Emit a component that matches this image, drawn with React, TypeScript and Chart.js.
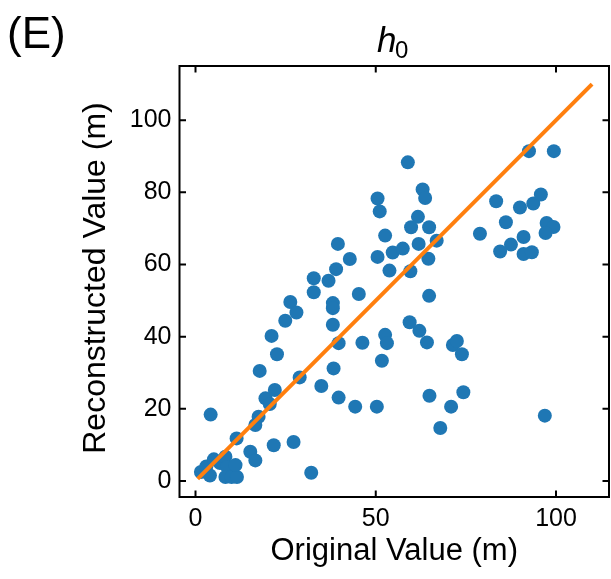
import React, { useEffect, useRef } from "react";
import { Chart, registerables } from "chart.js";

Chart.register(...registerables);

const originalValues = [
  1.5, 3.0, 4.0, 5.1, 6.8, 8.3, 8.8, 8.3, 10.0, 11.5, 11.1, 11.4, 4.2,
  15.2, 16.6, 16.6, 17.5, 17.8, 19.4, 20.6, 22.0, 21.7, 22.6, 21.1, 24.9, 26.3,
  28.0, 28.9, 27.2, 32.1, 32.8, 32.8, 36.9, 39.0, 38.1, 38.1, 38.1, 39.7, 38.3,
  34.9, 39.7, 44.3, 50.3, 45.3, 46.3, 42.8, 39.5, 50.5, 53.8, 51.7, 52.6, 53.1,
  58.9, 63.0, 63.7, 50.5, 51.1, 61.7, 59.8, 64.8, 66.9, 52.6, 54.7, 57.5, 61.9,
  64.6, 59.6, 64.8, 59.4, 62.1, 64.2, 71.4, 72.5, 73.9, 64.9, 70.9, 74.3, 67.9,
  96.9, 92.5, 99.4, 83.4, 90.0, 93.7, 95.8, 86.1, 97.4, 99.3, 97.1, 78.9, 91.0,
  87.5, 84.5, 91.0, 93.3,
];
const reconstructedValues = [
  2.5, 4.0, 1.5, 6.0, 5.0, 6.7, 3.9, 1.1, 1.1, 1.1, 4.4, 11.8, 18.4,
  8.1, 5.7, 15.5, 17.8, 30.5, 22.9, 21.3, 25.2, 9.9, 35.1, 40.2, 44.4, 49.6,
  46.7, 28.7, 10.8, 2.3, 56.2, 52.3, 55.5, 58.7, 49.3, 47.9, 43.3, 38.2, 31.2,
  26.3, 23.1, 20.6, 20.6, 51.8, 38.3, 61.5, 65.7, 62.1, 58.3, 33.3, 40.5, 38.2,
  88.3, 80.8, 78.4, 78.3, 74.7, 73.2, 70.3, 70.3, 66.6, 68.0, 63.3, 64.4, 65.7,
  61.6, 58.1, 51.3, 44.0, 41.6, 38.4, 37.7, 38.8, 35.1, 23.6, 20.6, 24.6, 14.7,
  18.1, 91.4, 91.4, 77.5, 75.8, 76.9, 79.4, 71.7, 71.5, 70.4, 68.7, 68.5, 67.6,
  65.5, 63.6, 62.9, 63.4,
];
const fitLineX = [0.6, 110];
const fitLineY = [0.6, 110];
const xTicks = [0, 50, 100];
const yTicks = [0, 20, 40, 60, 80, 100];
const xTitle = "Original Value (m)";
const yTitle = "Reconstructed Value (m)";
const panelLabel = "(E)";
const titleMain = "h";
const titleSub = "0";

const FONT = "'Liberation Sans', Arial, Helvetica, sans-serif";

export default function App() {
  const ref = useRef<HTMLCanvasElement>(null);

  useEffect(() => {
    document.body.style.margin = "0";
    const canvas = ref.current;
    if (!canvas) return;

    const framePlugin = {
      id: "framePlugin",
      afterDraw(chart: any) {
        const ctx = chart.ctx;
        const { left, right, top, bottom } = chart.chartArea;
        const xs = chart.scales.x;
        const ys = chart.scales.y;
        ctx.save();
        ctx.strokeStyle = "#000";
        ctx.lineWidth = 2;
        ctx.strokeRect(left, top, right - left, bottom - top);
        const tl = 6.5;
        ctx.beginPath();
        xTicks.forEach((v) => {
          const px = xs.getPixelForValue(v);
          ctx.moveTo(px, bottom);
          ctx.lineTo(px, bottom - tl);
          ctx.moveTo(px, top);
          ctx.lineTo(px, top + tl);
        });
        yTicks.forEach((v) => {
          const py = ys.getPixelForValue(v);
          ctx.moveTo(left, py);
          ctx.lineTo(left + tl, py);
          ctx.moveTo(right, py);
          ctx.lineTo(right - tl, py);
        });
        ctx.stroke();

        ctx.fillStyle = "#000";
        // x axis title
        ctx.font = `31px ${FONT}`;
        ctx.textAlign = "center";
        ctx.textBaseline = "alphabetic";
        ctx.fillText(xTitle, (left + right) / 2, 560);
        // y axis title
        ctx.save();
        ctx.font = `32px ${FONT}`;
        ctx.translate(96, 278);
        ctx.rotate(-Math.PI / 2);
        ctx.textBaseline = "middle";
        ctx.fillText(yTitle, 0, 0);
        ctx.restore();
        // panel label
        ctx.textAlign = "left";
        ctx.textBaseline = "alphabetic";
        ctx.font = `44px ${FONT}`;
        ctx.fillText(panelLabel, 7, 48);
        // title h_0
        ctx.font = `italic 35px ${FONT}`;
        ctx.fillText(titleMain, 377, 52);
        ctx.font = `24px ${FONT}`;
        ctx.fillText(titleSub, 395, 58);
        ctx.restore();
      },
    };

    const tickFont = { family: FONT, size: 25 };

    const chart = new Chart(canvas, {
      type: "scatter",
      data: {
        datasets: [
          {
            data: fitLineX.map((x, i) => ({ x, y: fitLineY[i] })),
            showLine: true,
            borderColor: "#ff7f0e",
            backgroundColor: "#ff7f0e",
            borderWidth: 4,
            pointRadius: 0,
            order: 0,
          } as any,
          {
            data: originalValues.map((x, i) => ({ x, y: reconstructedValues[i] })),
            backgroundColor: "#1f77b4",
            borderColor: "#1f77b4",
            borderWidth: 0,
            pointRadius: 7,
            order: 1,
          },
        ],
      },
      options: {
        responsive: false,
        animation: false,
        devicePixelRatio: 1,
        layout: { autoPadding: false, padding: { left: 0, right: 2, top: 66, bottom: 0 } },
        plugins: {
          legend: { display: false },
          tooltip: { enabled: false },
          title: { display: false },
        },
        scales: {
          x: {
            type: "linear",
            min: -4.44,
            max: 114.7,
            afterBuildTicks: (s: any) => {
              s.ticks = xTicks.map((v) => ({ value: v }));
            },
            afterFit: (s: any) => {
              s.height = 82;
              s.paddingLeft = 0;
              s.paddingRight = 0;
              s.paddingTop = 0;
              s.paddingBottom = 0;
            },
            grid: { display: false, drawTicks: false },
            border: { display: false },
            ticks: {
              font: tickFont,
              color: "#000",
              padding: 7,
              maxRotation: 0,
              autoSkip: false,
            },
          },
          y: {
            type: "linear",
            min: -4.44,
            max: 115,
            afterBuildTicks: (s: any) => {
              s.ticks = yTicks.map((v) => ({ value: v }));
            },
            afterFit: (s: any) => {
              s.width = 179.5;
              s.paddingLeft = 0;
              s.paddingRight = 0;
              s.paddingTop = 0;
              s.paddingBottom = 0;
            },
            grid: { display: false, drawTicks: false },
            border: { display: false },
            ticks: {
              font: tickFont,
              color: "#000",
              padding: 8,
              autoSkip: false,
            },
          },
        },
      },
      plugins: [framePlugin],
    });

    return () => chart.destroy();
  }, []);

  return <canvas ref={ref} width={611} height={579} style={{ display: "block" }} />;
}
